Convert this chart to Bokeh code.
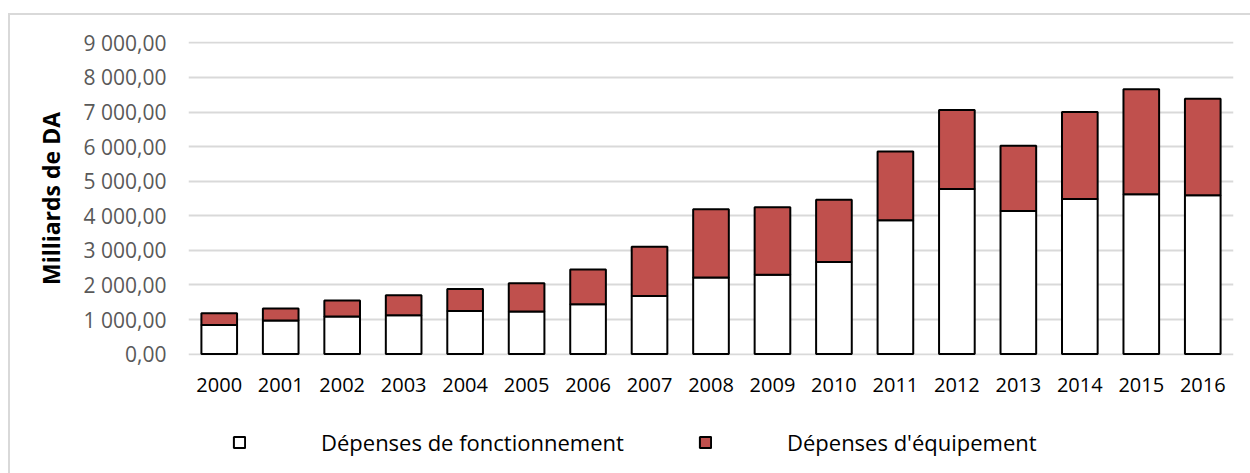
from bokeh.plotting import figure
from bokeh.layouts import column
from bokeh.models import ColumnDataSource, Range1d, FixedTicker, Legend, LegendItem
from bokeh.embed import file_html
from bokeh.resources import INLINE

years = [str(y) for y in range(2000, 2017)]
fonctionnement = [845, 970, 1085, 1124, 1249, 1230, 1441, 1681, 2219, 2296, 2661,
                  3871, 4774, 4140, 4486, 4621, 4592]
equipement = [335, 346, 462, 576, 634, 816, 1009, 1422, 1969, 1950, 1806,
              1989, 2287, 1883, 2517, 3035, 2795]
y_ticks = [0, 1000, 2000, 3000, 4000, 5000, 6000, 7000, 8000, 9000]
y_tick_labels = ["0,00", "1 000,00", "2 000,00", "3 000,00", "4 000,00",
                 "5 000,00", "6 000,00", "7 000,00", "8 000,00", "9 000,00"]
series_names = ["Dépenses de fonctionnement", "Dépenses d'équipement"]
y_label = "Milliards de DA"

FONT = "Open Sans"
RED = "#C0504D"
GRID = "#d9d9d9"

src = ColumnDataSource(dict(years=years, fonct=fonctionnement, equip=equipement))

# ---- main chart ----
p = figure(x_range=years, y_range=Range1d(-40, 9040), width=1240, height=398,
           output_backend="svg", toolbar_location=None,
           min_border_left=178, min_border_right=17, min_border_top=26,
           min_border_bottom=58)
p.outline_line_color = None
p.background_fill_color = "white"
p.border_fill_color = "white"

p.vbar_stack(["fonct", "equip"], x="years", width=0.58, source=src,
             fill_color=["white", RED], line_color="black", line_width=2)

p.yaxis.ticker = FixedTicker(ticks=y_ticks)
p.yaxis.major_label_overrides = {t: l for t, l in zip(y_ticks, y_tick_labels)}
p.yaxis.axis_label = y_label
p.yaxis.axis_label_text_font = FONT
p.yaxis.axis_label_text_font_style = "bold"
p.yaxis.axis_label_text_font_size = "23px"
p.yaxis.axis_label_text_color = "black"
p.yaxis.axis_label_standoff = 14
for ax in (p.xaxis, p.yaxis):
    ax.axis_line_color = None
    ax.major_tick_line_color = None
    ax.minor_tick_line_color = None
    ax.major_tick_out = 0
    ax.major_label_text_font = FONT
p.yaxis.major_label_text_font_size = "21px"
p.xaxis.major_label_text_font_size = "20px"
p.yaxis.major_label_text_color = "#595959"
p.yaxis.major_label_standoff = 22
p.xaxis.major_label_text_color = "black"
p.xaxis.major_label_standoff = 22

p.xgrid.grid_line_color = None
p.ygrid.grid_line_color = GRID
p.ygrid.grid_line_width = 2

# ---- legend strip (its frame is aligned with the chart frame by the column) ----
q = figure(width=1240, height=60, x_range=Range1d(0, 1), y_range=Range1d(0, 1),
           output_backend="svg", toolbar_location=None,
           x_axis_type=None, y_axis_type=None,
           min_border_left=0, min_border_right=0, min_border_top=0,
           min_border_bottom=0)
q.outline_line_color = None
q.xgrid.visible = False
q.ygrid.visible = False
q.border_fill_color = "white"

# legend proxies: NaN heights so nothing is drawn in the strip itself
nan = float("nan")
proxy = ColumnDataSource(dict(x=[0.5], bottom=[nan], top=[nan]))
d1 = q.vbar(x="x", bottom="bottom", top="top", width=0.1, source=proxy,
            fill_color="white", line_color="black", line_width=2)
d2 = q.vbar(x="x", bottom="bottom", top="top", width=0.1, source=proxy,
            fill_color=RED, line_color="black", line_width=2)

for rend, name, xloc in ((d1, series_names[0], 44), (d2, series_names[1], 510)):
    lg = Legend(items=[LegendItem(label=name, renderers=[rend])],
                location=(xloc, 16), orientation="horizontal",
                glyph_width=14, glyph_height=14, label_standoff=75,
                label_text_font=FONT, label_text_font_size="22px",
                label_text_color="black", label_height=14,
                padding=0, margin=0, border_line_color=None,
                background_fill_alpha=0)
    q.add_layout(lg, "center")

layout = column(p, q, spacing=0)
layout.styles = {"margin-left": "8px", "margin-top": "13px",
                 "border-left": f"2px solid {GRID}",
                 "border-top": f"2px solid {GRID}"}
open("out.html", "w").write(file_html(layout, INLINE))
